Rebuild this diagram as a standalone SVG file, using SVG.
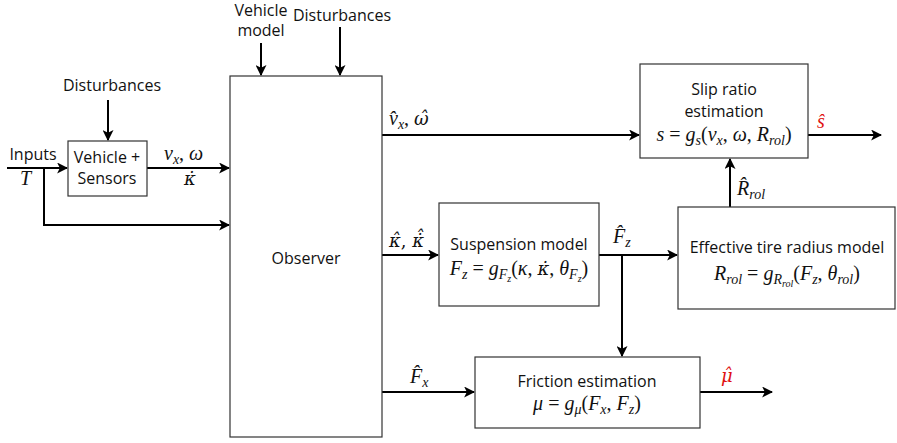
<svg xmlns="http://www.w3.org/2000/svg" width="897" height="443" viewBox="0 0 897 443">
<style>
.box{fill:#fff;stroke:#333;stroke-width:1.2}
.t{font-family:"Open Sans","Noto Sans",sans-serif;font-size:16px;fill:#111;text-anchor:middle}
.m{font-family:"Liberation Serif","DejaVu Serif",serif;font-style:italic;font-size:20px;fill:#111}
.g{font-family:"DejaVu Serif",serif;font-size:18px}
.u{font-style:normal}
.r{fill:#e01010}
.c{fill:none;stroke:#000;stroke-width:2}
</style>
<defs>
<marker id="a" viewBox="0 0 10 10" refX="9" refY="5" markerWidth="5.5" markerHeight="5.5" orient="auto" markerUnits="strokeWidth">
<path d="M0,0 L10,5 L0,10 L2.5,5 z" fill="#000"/>
</marker>
</defs>
<g id="connectors">
<path class="c" d="M7,168 H67" marker-end="url(#a)"/>
<path class="c" d="M44,168 V225 H229" marker-end="url(#a)"/>
<path class="c" d="M147,168 H229" marker-end="url(#a)"/>
<path class="c" d="M108,100 V140" marker-end="url(#a)"/>
<path class="c" d="M261,43 V75" marker-end="url(#a)"/>
<path class="c" d="M340,27 V75" marker-end="url(#a)"/>
<path class="c" d="M382,135 H639" marker-end="url(#a)"/>
<path class="c" d="M808,135 H881" marker-end="url(#a)"/>
<path class="c" d="M730,207 V159" marker-end="url(#a)"/>
<path class="c" d="M382,255 H438" marker-end="url(#a)"/>
<path class="c" d="M599,255 H677" marker-end="url(#a)"/>
<path class="c" d="M622,255 V356" marker-end="url(#a)"/>
<path class="c" d="M382,392 H474" marker-end="url(#a)"/>
<path class="c" d="M700,392 H772" marker-end="url(#a)"/>
</g>
<g id="labels">
<text class="t" x="261" y="16" font-size="15"><tspan x="261">Vehicle</tspan><tspan x="261" dy="20">model</tspan></text>
<text class="t" x="342" y="21">Disturbances</text>
<text class="t" x="112" y="91">Disturbances</text>
<text class="t" x="33" y="160">Inputs</text>
<text class="m" x="20" y="185" font-size="19">T</text>
<text class="m" x="164" y="160">v<tspan dy="4" font-size="14">x</tspan><tspan dy="-4" class="u">, </tspan>ω</text>
<text class="m g" x="184" y="185">κ̇</text>
<text class="m" x="389" y="125">v̂<tspan dy="4" font-size="14">x</tspan><tspan dy="-4" class="u">, </tspan><tspan class="g">ω̂</tspan></text>
<text class="m g" x="389" y="247">κ̂<tspan class="u">, </tspan>κ̇̂</text>
<text class="m" x="613" y="243">F̂<tspan dy="4" font-size="14">z</tspan></text>
<text class="m" x="737" y="195">R̂<tspan dy="4" font-size="14">rol</tspan></text>
<text class="m" x="410" y="383">F̂<tspan dy="4" font-size="14">x</tspan></text>
<text class="m r" x="817" y="128">ŝ</text>
<text class="m g r" x="721" y="382">μ̂</text>
</g>
<g id="observer">
<rect class="box" x="230" y="76" width="152" height="361"/>
<text class="t" x="306" y="264">Observer</text>
</g>
<g id="vehicle-sensors">
<rect class="box" x="68" y="141" width="79" height="55"/>
<text class="t" x="107" y="163">Vehicle +</text>
<text class="t" x="107" y="184">Sensors</text>
</g>
<g id="slip-ratio">
<rect class="box" x="640" y="64" width="168" height="94"/>
<text class="t" x="724" y="95">Slip ratio</text>
<text class="t" x="724" y="117">estimation</text>
<text class="m" x="724" y="141" text-anchor="middle">s<tspan class="u"> = </tspan>g<tspan dy="4" font-size="14">s</tspan><tspan dy="-4" class="u">(</tspan>v<tspan dy="4" font-size="14">x</tspan><tspan dy="-4" class="u">, </tspan>ω<tspan class="u">, </tspan>R<tspan dy="4" font-size="14">rol</tspan><tspan dy="-4" class="u">)</tspan></text>
</g>
<g id="suspension">
<rect class="box" x="439" y="203" width="160" height="103"/>
<text class="t" x="519" y="250">Suspension model</text>
<text class="m" x="519" y="275" text-anchor="middle">F<tspan dy="4" font-size="14">z</tspan><tspan dy="-4" class="u"> = </tspan>g<tspan dy="4" font-size="14">F</tspan><tspan dy="3" font-size="10">z</tspan><tspan dy="-7" class="u">(</tspan>κ<tspan class="u">, </tspan><tspan font-family="DejaVu Serif" font-size="18">κ̇</tspan><tspan class="u">, </tspan>θ<tspan dy="4" font-size="14">F</tspan><tspan dy="3" font-size="10">z</tspan><tspan dy="-7" class="u">)</tspan></text>
</g>
<g id="tire-radius">
<rect class="box" x="678" y="207" width="217" height="102"/>
<text class="t" x="787" y="253">Effective tire radius model</text>
<text class="m" x="787" y="280" text-anchor="middle">R<tspan dy="4" font-size="14">rol</tspan><tspan dy="-4" class="u"> = </tspan>g<tspan dy="4" font-size="14">R</tspan><tspan dy="3" font-size="10">rol</tspan><tspan dy="-7" class="u">(</tspan>F<tspan dy="4" font-size="14">z</tspan><tspan dy="-4" class="u">, </tspan>θ<tspan dy="4" font-size="14">rol</tspan><tspan dy="-4" class="u">)</tspan></text>
</g>
<g id="friction">
<rect class="box" x="475" y="357" width="225" height="71"/>
<text class="t" x="587" y="387">Friction estimation</text>
<text class="m" x="587" y="410" text-anchor="middle">μ<tspan class="u"> = </tspan>g<tspan dy="4" font-size="14">μ</tspan><tspan dy="-4" class="u">(</tspan>F<tspan dy="4" font-size="14">x</tspan><tspan dy="-4" class="u">, </tspan>F<tspan dy="4" font-size="14">z</tspan><tspan dy="-4" class="u">)</tspan></text>
</g>
</svg>
